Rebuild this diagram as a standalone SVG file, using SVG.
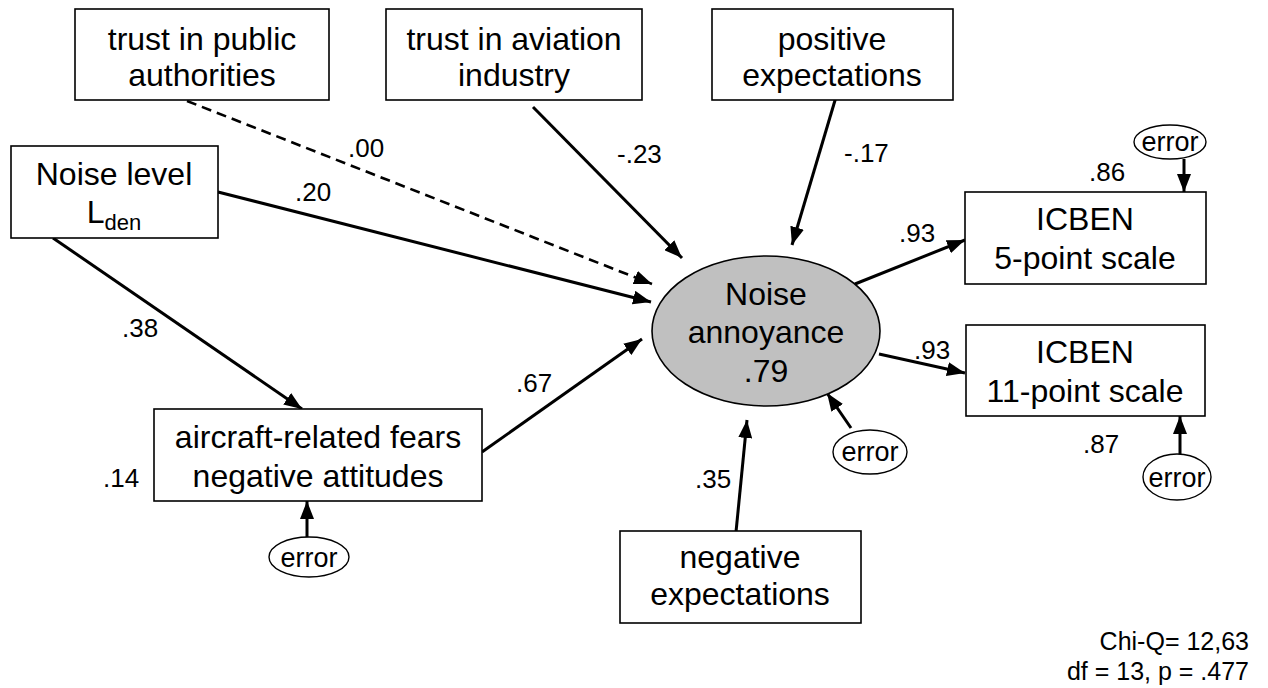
<svg xmlns="http://www.w3.org/2000/svg" width="1268" height="688" viewBox="0 0 1268 688">
<defs>
<marker id="ah" markerUnits="userSpaceOnUse" markerWidth="20" markerHeight="14" refX="18" refY="7" orient="auto">
<path d="M0,0 L18,7 L0,14 z" fill="#000" stroke="none"/>
</marker>
<style>
.box{fill:#fff;stroke:#000;stroke-width:1.6}
.err{fill:#fff;stroke:#000;stroke-width:1.4}
.t{font-family:"Liberation Sans",Arial,sans-serif;font-size:32px;fill:#000;text-anchor:middle}
.e{font-family:"Liberation Sans",Arial,sans-serif;font-size:27px;fill:#000;text-anchor:middle}
.l{font-family:"Liberation Sans",Arial,sans-serif;font-size:26px;fill:#000}
.fit{font-family:"Liberation Sans",Arial,sans-serif;font-size:25px;fill:#000;text-anchor:end}
.c{stroke:#000;stroke-width:3;fill:none;marker-end:url(#ah)}
.d{stroke-dasharray:10 6;stroke-width:2.6}
</style>
</defs>
<rect width="1268" height="688" fill="#fff"/>

<g id="connectors">
<line class="c d" x1="187" y1="101" x2="652" y2="284"/>
<line class="c" x1="218" y1="192" x2="651" y2="302"/>
<line class="c" x1="533" y1="107" x2="682" y2="258"/>
<line class="c" x1="836" y1="97" x2="792" y2="245"/>
<line class="c" x1="53" y1="238" x2="302" y2="409"/>
<line class="c" x1="482" y1="452" x2="642" y2="339"/>
<line class="c" x1="855" y1="284" x2="965" y2="240"/>
<line class="c" x1="879" y1="354" x2="965" y2="373"/>
<line class="c" x1="736" y1="532" x2="747" y2="420"/>
<line class="c" x1="851" y1="428" x2="827" y2="393"/>
<line class="c" x1="1184" y1="159" x2="1184" y2="192"/>
<line class="c" x1="1180" y1="454" x2="1180" y2="416"/>
<line class="c" x1="307" y1="537" x2="307" y2="501"/>
</g>

<g id="labels">
<text class="l" x="348" y="157">.00</text>
<text class="l" x="295" y="201">.20</text>
<text class="l" x="617" y="163">-.23</text>
<text class="l" x="844" y="162">-.17</text>
<text class="l" x="1089" y="181">.86</text>
<text class="l" x="899" y="242">.93</text>
<text class="l" x="914" y="359">.93</text>
<text class="l" x="122" y="337">.38</text>
<text class="l" x="516" y="392">.67</text>
<text class="l" x="103" y="487">.14</text>
<text class="l" x="695" y="488">.35</text>
<text class="l" x="1083" y="453">.87</text>
</g>

<g id="n-trust-public">
<rect class="box" x="75" y="9" width="254" height="91"/>
<text class="t" x="202" y="50">trust in public</text>
<text class="t" x="202" y="86">authorities</text>
</g>
<g id="n-trust-aviation">
<rect class="box" x="386" y="9" width="256" height="91"/>
<text class="t" x="514" y="50">trust in aviation</text>
<text class="t" x="514" y="86">industry</text>
</g>
<g id="n-positive">
<rect class="box" x="712" y="9" width="241" height="91"/>
<text class="t" x="832" y="50">positive</text>
<text class="t" x="832" y="86">expectations</text>
</g>
<g id="n-noise-level">
<rect class="box" x="11" y="146" width="207" height="92"/>
<text class="t" x="114" y="185">Noise level</text>
<text class="t" x="114" y="223">L<tspan font-size="22" dy="7">den</tspan></text>
</g>
<g id="n-fears">
<rect class="box" x="154" y="409" width="328" height="92"/>
<text class="t" x="318" y="448">aircraft-related fears</text>
<text class="t" x="318" y="487">negative attitudes</text>
</g>
<g id="n-annoyance">
<ellipse cx="766" cy="331" rx="114" ry="75" fill="#c0c0c0" stroke="#000" stroke-width="1.6"/>
<text class="t" x="766" y="305">Noise</text>
<text class="t" x="766" y="343">annoyance</text>
<text class="t" x="766" y="382">.79</text>
</g>
<g id="n-icben5">
<rect class="box" x="965" y="192" width="241" height="92"/>
<text class="t" x="1085" y="230">ICBEN</text>
<text class="t" x="1085" y="269">5-point scale</text>
</g>
<g id="n-icben11">
<rect class="box" x="966" y="325" width="239" height="91"/>
<text class="t" x="1085" y="363">ICBEN</text>
<text class="t" x="1085" y="402">11-point scale</text>
</g>
<g id="n-negative">
<rect class="box" x="620" y="531" width="241" height="92"/>
<text class="t" x="740" y="568">negative</text>
<text class="t" x="740" y="605">expectations</text>
</g>
<g id="n-err-icben5">
<ellipse class="err" cx="1170" cy="142" rx="36" ry="17"/>
<text class="e" x="1170" y="151">error</text>
</g>
<g id="n-err-annoyance">
<ellipse class="err" cx="870" cy="452" rx="37" ry="22"/>
<text class="e" x="870" y="461">error</text>
</g>
<g id="n-err-icben11">
<ellipse class="err" cx="1177" cy="477" rx="34" ry="23"/>
<text class="e" x="1177" y="487">error</text>
</g>
<g id="n-err-fears">
<ellipse class="err" cx="309" cy="557" rx="40" ry="20"/>
<text class="e" x="309" y="567">error</text>
</g>

<g id="fit">
<text class="fit" x="1249" y="650">Chi-Q= 12,63</text>
<text class="fit" x="1249" y="680">df = 13, p = .477</text>
</g>
</svg>
